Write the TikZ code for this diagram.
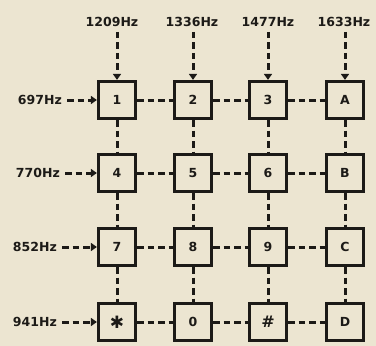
\documentclass[tikz,border=0pt]{standalone}
\usepackage{fontspec}
\setmainfont{DejaVu Sans}
\usetikzlibrary{arrows.meta}
\definecolor{paper}{HTML}{ECE5D1}
\definecolor{ink}{HTML}{1C1A17}
\begin{document}
\begin{tikzpicture}[x=1pt,y=-1pt,
  key/.style={draw=ink,line width=3.2pt,minimum width=37pt,minimum height=37pt,inner sep=0pt,font=\bfseries\fontsize{12.5}{13}\selectfont,text=ink},
  lbl/.style={inner sep=0pt,font=\bfseries\fontsize{12.5}{13}\selectfont,text=ink},
  dl/.style={draw=ink,line width=3pt,dash pattern=on 6.5pt off 4pt},
  arr/.style={dl,-{Triangle[length=6pt,width=8pt]}}]
\fill[paper] (0,0) rectangle (376,346);
\useasboundingbox (0,0) rectangle (376,346);
% keys
\node[key] (k11) at (117,100) {1};
\node[key] (k12) at (193,100) {2};
\node[key] (k13) at (268,100) {3};
\node[key] (k14) at (345,100) {A};
\node[key] (k21) at (117,173) {4};
\node[key] (k22) at (193,173) {5};
\node[key] (k23) at (268,173) {6};
\node[key] (k24) at (345,173) {B};
\node[key] (k31) at (117,247) {7};
\node[key] (k32) at (193,247) {8};
\node[key] (k33) at (268,247) {9};
\node[key] (k34) at (345,247) {C};
\node[key,font=\fontsize{17}{18}\selectfont] (k41) at (117,322) {✱};
\node[key] (k42) at (193,322) {0};
\node[key,font=\bfseries\fontsize{16}{17}\selectfont] (k43) at (268,322) {\#};
\node[key] (k44) at (345,322) {D};
% column labels
\node[lbl] (c1) at (112,22) {1209Hz};
\node[lbl] (c2) at (192,22) {1336Hz};
\node[lbl] (c3) at (268,22) {1477Hz};
\node[lbl] (c4) at (344,22) {1633Hz};
% row labels
\node[lbl,anchor=east] (r1) at (62,100) {697Hz};
\node[lbl,anchor=east] (r2) at (60,173) {770Hz};
\node[lbl,anchor=east] (r3) at (57,247) {852Hz};
\node[lbl,anchor=east] (r4) at (57,322) {941Hz};
% column inputs
\foreach \j in {1,2,3,4}{
  \draw[arr] ([yshift=-5pt]c\j.south -| k1\j.north) -- (k1\j.north);
}
% row inputs
\foreach \i in {1,2,3,4}{
  \draw[arr] ([xshift=5pt]r\i.east) -- (k\i1.west);
}
% grid connectors
\foreach \i in {1,2,3,4}{
  \draw[dl] (k\i1.east) -- (k\i2.west);
  \draw[dl] (k\i2.east) -- (k\i3.west);
  \draw[dl] (k\i3.east) -- (k\i4.west);
}
\foreach \j in {1,2,3,4}{
  \draw[dl] (k1\j.south) -- (k2\j.north);
  \draw[dl] (k2\j.south) -- (k3\j.north);
  \draw[dl] (k3\j.south) -- (k4\j.north);
}
\end{tikzpicture}
\end{document}
